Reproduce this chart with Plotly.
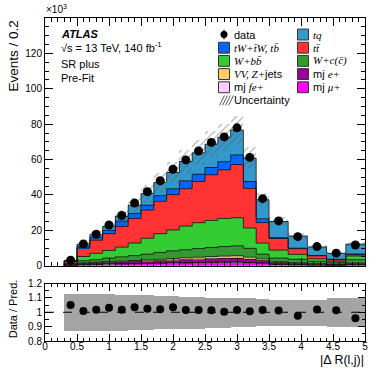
import plotly.graph_objects as go

# bin edges of |dR(l,j)| and the measured / predicted yields (x10^3 events)
edges = [0.3, 0.5, 0.7, 0.9, 1.1, 1.3, 1.5, 1.7, 1.9, 2.1, 2.3, 2.5, 2.7, 2.9, 3.1, 3.3, 3.5, 3.8, 4.1, 4.4, 4.7, 5.0]

data = [3.15, 12.3, 17.8, 23.0, 28.4, 35.4, 41.8, 48.0, 54.5, 59.8, 64.8, 69.7, 72.8, 77.9, 61.2, 37.9, 25.3, 16.4, 10.8, 7.1, 11.7]

mj_mu = [0.18, 0.6, 0.8, 0.94, 1.03, 1.12, 1.22, 1.36, 1.5, 1.6, 1.75, 1.85, 1.95, 2.0, 1.7, 1.37, 0.8, 0.56, 0.4, 0.3, 0.55]
mj_fe = [0.02, 0.05, 0.05, 0.06, 0.07, 0.08, 0.08, 0.09, 0.1, 0.1, 0.1, 0.1, 0.1, 0.1, 0.1, 0.08, 0.05, 0.04, 0.03, 0.03, 0.05]
mj_e = [0.17, 0.6, 0.8, 0.9, 1.0, 1.15, 1.25, 1.4, 1.5, 1.7, 1.85, 1.95, 2.05, 2.1, 1.8, 1.45, 0.85, 0.6, 0.42, 0.32, 0.55]
vv_zjets = [0.08, 0.25, 0.35, 0.4, 0.5, 0.55, 0.65, 0.75, 0.9, 1.0, 1.1, 1.2, 1.3, 1.4, 1.2, 0.9, 0.5, 0.4, 0.25, 0.2, 0.35]
w_c = [0.35, 1.3, 1.4, 2.0, 2.4, 2.8, 3.3, 3.9, 4.4, 4.6, 4.9, 5.2, 5.4, 5.6, 5.0, 2.7, 2.1, 2.0, 1.4, 0.85, 1.9]
w_bb = [0.5, 2.4, 3.6, 4.3, 5.5, 7.1, 9.0, 10.6, 11.8, 13.4, 14.6, 15.3, 15.9, 15.9, 11.5, 6.3, 4.5, 2.8, 1.4, 0.9, 2.1]
ttbar = [1.1, 4.8, 7.4, 9.5, 11.7, 13.9, 15.9, 18.3, 20.0, 21.1, 23.3, 25.8, 27.5, 30.1, 22.4, 11.6, 6.6, 3.2, 1.7, 0.9, 0.9]
tw = [0.3, 0.8, 1.5, 1.9, 3.0, 2.8, 2.8, 3.2, 3.3, 4.5, 4.1, 4.1, 4.6, 5.4, 3.9, 2.1, 0.5, 0.3, 0.2, 0.1, 0.2]
tq = [0.3, 1.4, 1.6, 2.3, 2.7, 4.7, 6.6, 7.4, 9.2, 10.9, 12.1, 13.2, 13.8, 14.1, 13.2, 10.8, 9.1, 6.9, 4.8, 3.4, 5.6]

# relative uncertainty of the prediction
rel_unc = [0.13, 0.13, 0.13, 0.13, 0.125, 0.12, 0.12, 0.115, 0.115, 0.11, 0.11, 0.105, 0.105, 0.1, 0.1, 0.095, 0.09, 0.09, 0.09, 0.1, 0.1]

samples = [
    (mj_mu, '#ff00ff'),
    (mj_fe, '#ffccff'),
    (mj_e, '#990099'),
    (vv_zjets, '#ffcc66'),
    (w_c, '#339933'),
    (w_bb, '#33cc33'),
    (ttbar, '#ff3333'),
    (tw, '#0066ff'),
    (tq, '#3399cc'),
]

centers = [(a + b) / 2 for a, b in zip(edges[:-1], edges[1:])]
widths = [b - a for a, b in zip(edges[:-1], edges[1:])]
nb = len(centers)

FONT = 'Liberation Sans, Arial, sans-serif'
SERIF = 'Liberation Serif, Times New Roman, serif'

fig = go.Figure()

# stacked histogram
base = [0.0] * nb
tops = []
for vals, col in samples:
    fig.add_trace(go.Bar(x=centers, y=vals, width=widths, base=list(base),
                         marker=dict(color=col, line=dict(width=0)),
                         xaxis='x', yaxis='y', showlegend=False, hoverinfo='skip'))
    base = [b + v for b, v in zip(base, vals)]
    tops.append(list(base))
pred = base

# hatched uncertainty band
fig.add_trace(go.Bar(x=centers, width=widths,
                     y=[2 * p * u for p, u in zip(pred, rel_unc)],
                     base=[p * (1 - u) for p, u in zip(pred, rel_unc)],
                     marker=dict(color='rgba(0,0,0,0)', line=dict(width=0),
                                 pattern=dict(shape='/', fgcolor='#5a5a5a', size=5, solidity=0.22)),
                     xaxis='x', yaxis='y', showlegend=False, hoverinfo='skip'))

# outlines of each stacked layer
for top in tops:
    fig.add_trace(go.Scatter(x=[edges[0]] + edges, y=[0] + top + [top[-1]],
                             mode='lines', line=dict(color='rgba(25,25,25,0.85)', width=1, shape='hv'),
                             xaxis='x', yaxis='y', showlegend=False, hoverinfo='skip'))

fig.add_trace(go.Scatter(x=centers, y=data, mode='markers',
                         marker=dict(color='black', size=9),
                         xaxis='x', yaxis='y', showlegend=False))

# ratio panel
fig.add_trace(go.Bar(x=centers, width=widths, y=[2 * u for u in rel_unc], base=[1 - u for u in rel_unc],
                     marker=dict(color='#a4a4a4', line=dict(width=0)),
                     xaxis='x2', yaxis='y2', showlegend=False, hoverinfo='skip'))
fig.add_trace(go.Scatter(x=centers, y=[d / p for d, p in zip(data, pred)], mode='markers',
                         marker=dict(color='black', size=8),
                         xaxis='x2', yaxis='y2', showlegend=False))

W, H = 382, 369
PL, PT, PR, PB = 45, 15, 365, 341          # plot area in pixels
PW, PH = PR - PL, PB - PT


def px_x(px):
    return (px - PL) / PW


def px_y(py):
    return (PB - py) / PH


shapes = [dict(type='line', xref='x2', yref='y2', x0=0, x1=5, y0=1, y1=1,
               line=dict(color='black', width=1, dash='dash'))]
annotations = []


def note(text, x, y, size=11, xanchor='left', yanchor='middle', angle=0):
    annotations.append(dict(text=text, x=px_x(x), y=px_y(y), xref='paper', yref='paper',
                            xanchor=xanchor, yanchor=yanchor, showarrow=False, textangle=angle,
                            font=dict(family=FONT, size=size, color='black')))


def it(s):
    return f"<span style='font-family:{SERIF}'><i>{s}</i></span>"


# legend drawn by hand: two columns of boxes
col1 = [
    (None, 'data'),
    ('#0066ff', it('tW+t\u0304W, tb\u0304')),
    ('#33cc33', it('W+bb\u0304')),
    ('#ffcc66', it('VV, Z+') + 'jets'),
    ('#ffccff', 'mj ' + it('fe+')),
    ('hatch', 'Uncertainty'),
]
col2 = [
    ('#3399cc', it('tq')),
    ('#ff3333', it('tt\u0304')),
    ('#339933', it('W+c(c\u0304)')),
    ('#990099', 'mj ' + it('e+')),
    ('#ff00ff', 'mj ' + it('\u03bc+')),
]
for cx, entries in ((218.5, col1), (297.5, col2)):
    for i, (col, label) in enumerate(entries):
        yc = 31.7 + 13.3 * i
        if col is None:
            shapes.append(dict(type='line', xref='paper', yref='paper', x0=px_x(cx + 5.5), x1=px_x(cx + 5.5),
                               y0=px_y(yc - 5), y1=px_y(yc + 5), line=dict(color='black', width=1)))
            shapes.append(dict(type='circle', xref='paper', yref='paper', x0=px_x(cx + 2), x1=px_x(cx + 9),
                               y0=px_y(yc - 3.5), y1=px_y(yc + 3.5), fillcolor='black', line=dict(width=0)))
        elif col == 'hatch':
            for k in range(4):
                x0 = cx + 1 + 3 * k
                shapes.append(dict(type='line', xref='paper', yref='paper', x0=px_x(x0), x1=px_x(x0 + 5),
                                   y0=px_y(yc + 5), y1=px_y(yc - 5), line=dict(color='#5a5a5a', width=1)))
        else:
            shapes.append(dict(type='rect', xref='paper', yref='paper', x0=px_x(cx), x1=px_x(cx + 11),
                               y0=px_y(yc + 5.5), y1=px_y(yc - 5.5), fillcolor=col,
                               line=dict(color='#333333', width=1)))
        note(label, cx + 13, yc)

note('<b><i>ATLAS</i></b>', 59, 30.7)
note('\u221as = 13 TeV, 140 fb<sup>-1</sup>', 59, 44)
note('SR plus', 59, 61)
note('Pre-Fit', 59, 75.7)
note('\u00d710<sup>3</sup>', 44, 6, size=10)
note('Events / 0.2', 13, 16, size=13.5, xanchor='center', yanchor='top', angle=-90)
note('Data / Pred.', 13, 309, size=11, xanchor='center', angle=-90)
note('|\u0394 R(l,j)|', 366, 360, size=12.5, xanchor='right')

axis_style = dict(showline=True, linecolor='black', linewidth=1, mirror='allticks', ticks='inside',
                  showgrid=False, zeroline=False, tickcolor='black',
                  tickfont=dict(family=FONT, size=10, color='black'))

fig.update_layout(
    width=W, height=H, margin=dict(l=PL, r=W - PR, t=PT, b=H - PB),
    paper_bgcolor='white', plot_bgcolor='white', barmode='overlay', bargap=0,
    showlegend=False, font=dict(family=FONT, color='black'),
    xaxis=dict(domain=[0, 1], range=[0, 5], anchor='y', matches='x2', showticklabels=False,
               dtick=0.5, tick0=0, ticklen=8,
               minor=dict(ticks='inside', dtick=0.1, ticklen=4, tickcolor='black', showgrid=False),
               **axis_style),
    yaxis=dict(domain=[px_y(265), 1], range=[0, 140], anchor='x',
               tickvals=[0, 20, 40, 60, 80, 100, 120], ticklen=8,
               minor=dict(ticks='inside', dtick=5, tick0=0, ticklen=4, tickcolor='black', showgrid=False),
               **axis_style),
    xaxis2=dict(domain=[0, 1], range=[0, 5], anchor='y2', dtick=0.5, tick0=0, ticklen=7,
                ticklabelstandoff=-4,
                minor=dict(ticks='inside', dtick=0.1, ticklen=3.5, tickcolor='black', showgrid=False),
                **axis_style),
    yaxis2=dict(domain=[0, px_y(283)], range=[0.8, 1.2], anchor='x2',
                tickvals=[0.8, 0.9, 1.0, 1.1, 1.2], ticktext=['0.8', '0.9', '1', '1.1', '1.2'], ticklen=7,
                minor=dict(ticks='inside', dtick=0.05, tick0=0.8, ticklen=3.5, tickcolor='black', showgrid=False),
                **axis_style),
    shapes=shapes, annotations=annotations,
)

# drop the default 8px page margin so the figure fills the window exactly
fig.write_html("out.html", config={'displayModeBar': False},
               post_script="document.body.style.margin='0';")
